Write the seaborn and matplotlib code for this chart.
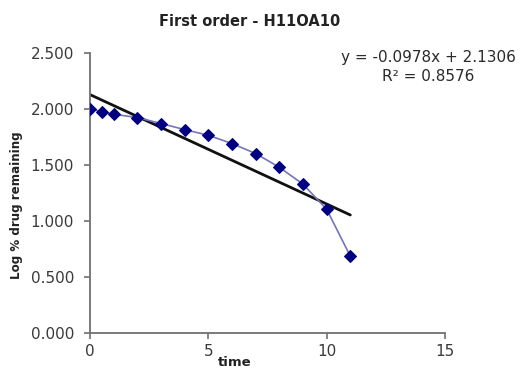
import numpy as np
import pandas as pd
import matplotlib
matplotlib.use("Agg")
import matplotlib.pyplot as plt
import seaborn as sns

# Data
time = [0, 0.5, 1, 2, 3, 4, 5, 6, 7, 8, 9, 10, 11]
log_remaining = [2.006, 1.976, 1.955, 1.926, 1.872, 1.818, 1.767,
                 1.693, 1.604, 1.481, 1.330, 1.106, 0.686]
trend_slope = -0.0978
trend_intercept = 2.1306
trend_r2 = 0.8576
x_ticks = [0, 5, 10, 15]
y_ticks = [0.0, 0.5, 1.0, 1.5, 2.0, 2.5]

sns.set_theme(style="white")
plt.rcParams['font.family'] = ['DejaVu Sans']

df = pd.DataFrame({"time": time, "logrem": log_remaining})
trend_x = [min(time), max(time)]
trend_df = pd.DataFrame({"time": trend_x,
                         "fit": [trend_intercept + trend_slope * t for t in trend_x]})

fig = plt.figure(figsize=(5.30, 3.69), dpi=100)
ax = fig.add_axes([0.1698, 0.0976, 0.6698, 0.758])

sns.lineplot(data=df, x="time", y="logrem", ax=ax, color="#7474b8",
             linewidth=1.2, marker="D", markersize=6,
             markerfacecolor="#000080", markeredgecolor="#000080", zorder=3)
sns.lineplot(data=trend_df, x="time", y="fit", ax=ax, color="#111111",
             linewidth=2.0, zorder=2)

ax.set_xlim(0, 15)
ax.set_ylim(0, 2.5)
ax.set_xticks(x_ticks)
ax.set_yticks(y_ticks)
ax.set_yticklabels([f"{v:.3f}" for v in y_ticks])
ax.set_xticklabels([str(v) for v in x_ticks])

for s in ["top", "right"]:
    ax.spines[s].set_visible(False)
for s in ["left", "bottom"]:
    ax.spines[s].set_color("#707070")
    ax.spines[s].set_linewidth(1.3)

ax.tick_params(axis="both", which="major", direction="out", length=4.5,
               width=1.2, color="#707070", labelsize=11,
               labelcolor="#3a3a3a", left=True, bottom=True)
ax.tick_params(axis="y", pad=7)
ax.tick_params(axis="x", pad=3.5)

ax.set_xlabel("time", fontsize=9.5, fontweight="bold", color="#222222",
              va="top")
ax.xaxis.set_label_coords(0.408, -0.083)
ax.set_ylabel("Log % drug remaining", fontsize=8.6, fontweight="bold",
              color="#222222")
ax.yaxis.set_label_coords(-0.19, 0.458)

fig.text(0.471, 0.942, "First order - H11OA10", ha="center", va="center",
         fontsize=10.5, fontweight="bold", color="#222222")

fig.text(0.808, 0.819,
         f"y = {trend_slope:.4f}x + {trend_intercept:.4f}\nR\u00b2 = {trend_r2:.4f}",
         ha="center", va="center", fontsize=11, color="#2a2a2a",
         linespacing=1.3, multialignment="center")

fig.savefig("out.png", dpi=100)
